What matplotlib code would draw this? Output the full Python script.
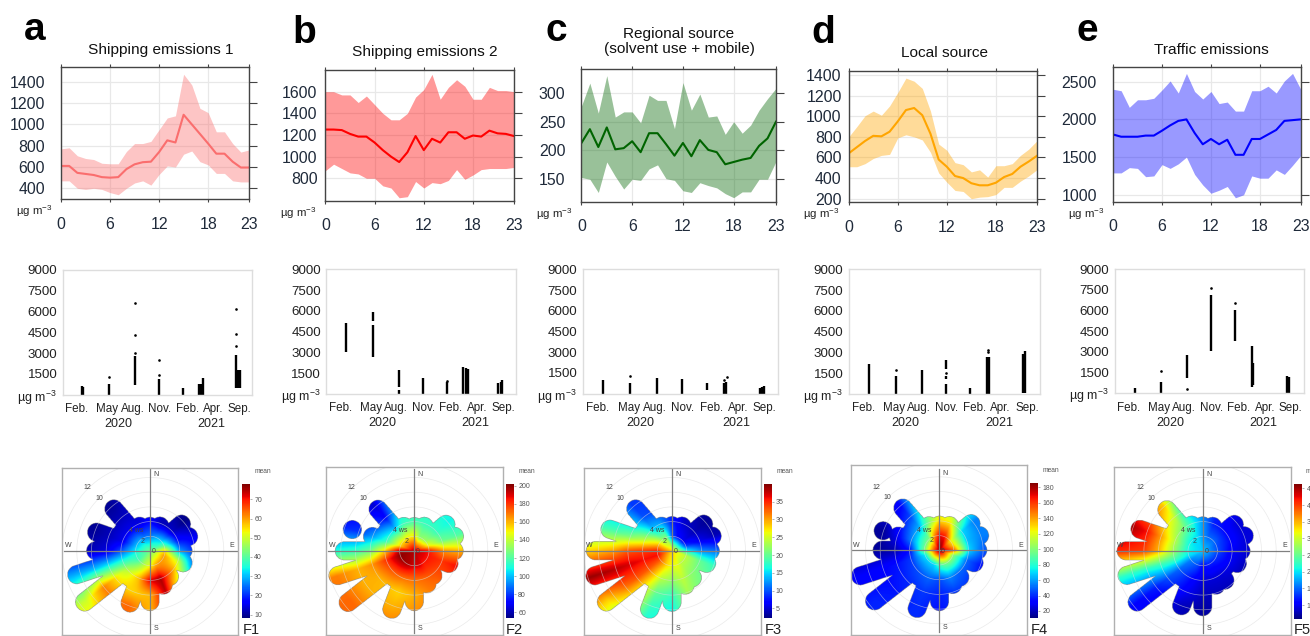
#!/usr/bin/env python
import numpy as np
import matplotlib
matplotlib.use('Agg')
import matplotlib.pyplot as plt

plt.rcParams['font.family'] = ['Liberation Sans', 'DejaVu Sans']
plt.rcParams['mathtext.default'] = 'regular'

W, H = 1310, 636
UNIT = 'µg m$^{-3}$'

hours = list(range(24))

# diurnal profiles: mean, upper, lower
a_mean = [610,610,545,535,525,505,500,505,580,625,645,650,740,850,830,1090,1000,910,820,725,725,650,595,595]
a_up = [770,780,705,680,670,635,630,630,745,820,820,840,950,1060,1080,1470,1370,1150,1110,930,930,820,740,760]
a_lo = [470,470,400,390,400,390,360,340,400,450,470,430,530,610,600,720,750,650,620,540,540,470,460,460]
b_mean = [1250,1250,1245,1210,1185,1185,1130,1060,1000,950,1040,1190,1060,1165,1130,1225,1225,1165,1195,1185,1240,1215,1210,1190]
b_up = [1600,1600,1570,1570,1500,1560,1480,1400,1340,1340,1400,1550,1620,1760,1530,1640,1710,1650,1530,1530,1640,1610,1610,1600]
b_lo = [870,930,890,850,840,800,800,730,710,620,630,770,710,760,750,780,880,790,830,880,890,890,890,900]
c_mean = [213,237,206,240,202,204,216,197,230,230,211,191,213,190,218,201,197,176,180,184,187,208,221,250]
c_up = [277,317,265,330,258,267,267,248,296,287,287,238,318,270,298,258,260,228,250,230,244,270,290,308]
c_lo = [153,150,127,180,155,133,150,148,168,175,151,148,130,127,144,139,135,125,118,128,128,150,150,181]
d_mean = [640,700,760,810,805,850,950,1060,1080,1010,830,580,510,420,400,350,330,330,355,410,440,510,560,615]
d_up = [800,900,1005,1050,1010,1100,1230,1370,1340,1270,1050,730,670,550,530,460,480,410,520,520,540,620,680,760]
d_lo = [510,510,540,590,620,630,790,820,800,770,650,450,360,280,270,200,215,220,240,310,310,370,420,480]
e_mean = [1800,1770,1770,1770,1785,1785,1850,1920,1980,2000,1820,1670,1740,1670,1730,1530,1530,1740,1740,1800,1860,1980,1990,2000]
e_up = [2400,2380,2160,2260,2260,2280,2390,2510,2350,2610,2370,2270,2370,2210,2230,2110,2110,2380,2380,2440,2350,2510,2610,2400]
e_lo = [1290,1290,1360,1350,1240,1250,1400,1350,1410,1500,1270,1130,1020,1060,1110,960,1000,1250,1220,1220,1330,1270,1390,1520]

titles = ['Shipping emissions 1', 'Shipping emissions 2', 'Regional source\n(solvent use + mobile)', 'Local source', 'Traffic emissions']
letters = ['a', 'b', 'c', 'd', 'e']

# campaign columns: (month index, low, high) and single points: (month index, value)
m = [1.0, 4.26, 7.47, 10.4, 13.4, 15.6, 19.9]
month_labels = ['Feb.', 'May', 'Aug.', 'Nov.', 'Feb.', 'Apr.', 'Sep.']
month_label_x = [0.3, 4.05, 7.15, 10.5, 13.9, 17.1, 20.3]
scat_ticks = [1500, 3000, 4500, 6000, 7500, 9000]

a_cols = [(m[0]-.1,0,600),(m[0]+.1,0,580),(m[1],0,800),(m[2],700,2800),(m[3],0,1100),(m[4],0,450),
          (m[5]-.2,0,800),(m[5],0,800),(m[5]+.2,0,1200),(m[6],500,2900),(m[6]+.25,500,1800),(m[6]+.5,500,1800)]
a_pts = [(m[1],1300),(m[2],3000),(m[2],4300),(m[2],6600),(m[3],1400),(m[3],2500),(m[6],3500),(m[6],4400),(m[6],6200)]
b_cols = [(m[0],3000,5100),(m[1],2700,5000),(m[1],5300,5900),(m[2],0,300),(m[2],500,1700),(m[3],0,1150),(m[4],0,900),
          (m[5]-.2,0,1950),(m[5]+.1,0,1900),(m[5]+.35,0,1800),(m[6]-.2,0,800),(m[6]+.1,0,900),(m[6]+.3,0,1000)]
b_pts = [(m[4],950)]
c_cols = [(m[0],0,1000),(m[1],0,800),(m[2],0,1100),(m[3],0,1050),(m[4],250,750),(m[5]-.15,0,750),(m[5]+.1,0,850),
          (m[6]-.15,0,400),(m[6]+.1,0,450),(m[6]+.35,0,550)]
c_pts = [(m[1],1300),(m[5]-.1,1000),(m[5]+.2,1200)]
d_cols = [(m[0],0,2200),(m[1],0,1300),(m[2],0,1750),(m[3],0,700),(m[3],1100,1300),(m[3],1800,2450),(m[4],0,450),
          (m[5]-.15,0,2700),(m[5]+.1,0,2700),(m[6]-.1,100,2900),(m[6]+.15,100,3100)]
d_pts = [(m[1],1750),(m[3],1500),(m[5]-.1,3000),(m[5]-.1,3200)]
e_cols = [(m[0],0,400),(m[1],0,850),(m[2],1100,2800),(m[3],3050,7100),(m[4],3800,6000),(m[5]-.1,450,3400),(m[5]+.1,600,2200),
          (m[6]-.1,0,1250),(m[6]+.15,0,1200)]
e_pts = [(m[1],1600),(m[2],300),(m[3],7600),(m[4],6550)]

# polar plots: mean by wind direction (deg from east, ccw) and wind speed ring
wind_dirs = [0,20,40,68,90,113,131,161,180,198,218,249,270,291,307,340]
ws_rings = [0,2,4,6,8,11]

f1_center = 42
f1_vals = [[55,28,20],[40,18,15],[32,13,9],[28,12,12],[25,17,17],[25,14,13],[28,15,12,10],[30,15,12,10],
           [33,22,14,12],[36,34,32,30,29],[38,47,55,62,50],[48,58,56,64,64],[52,72,58,58,58],[58,75,74,74,74],[60,66,55],[60,50,28]]
f2_center = 195
f2_vals = [[185,165,160],[150,125,120],[135,115,108],[130,115,112],[150,118,112],[150,115,105],[150,100,72,65,60],[155,115,95,80,75],
           [195,155,125,115,110],[200,180,165,160,168],[198,175,160,160,172],[195,170,155,160,170],[190,170,160,165,170],[190,172,168],[185,175,170],[185,180,186]]
f3_center = 28
f3_vals = [[16,12,11],[9,6,4],[6,4,3],[7,5,4],[10,8,8],[21,13,9],[22,14,10,9,9],[30,25,21,19,18],
           [35,34,33,30,28],[36,36,37,38,39],[33,33,33,32,28],[28,24,20,18,16],[26,22,18,16,15],[26,24,23],[24,22,21],[24,20,18]]
f4_center = 186
f4_vals = [[150,70,48],[130,65,55],[125,70,55],[165,125,100],[170,130,110],[140,95,85],[100,65,45,33,30],[95,55,30,15,15],
           [100,35,18,15,15],[75,42,35,32,30],[70,45,38,35,38],[70,50,42,40,40],[85,45,38,35,35],[95,55,42],[100,50,42],[100,50,35]]
f5_center = 19
f5_vals = [[14,10,9],[14,11,9],[15,11,9],[15,12,12],[17,17,15],[20,22,20],[20,26,30,34,32],[21,29,36,42,46],
           [21,28,35,40,41],[20,23,23,22,22],[16,15,14,12,11],[14,11,10,8,8],[11,9,8,7,7],[12,9,8],[12,9,8],[13,10,8]]

# longest wind speed reached in each direction, plus detached blobs (direction, speed)
f1_len = [4.5,5.6,5.6,3.6,3.3,3.6,7.5,7.7,7.4,10.5,11.3,7.6,6.9,5.0,4.4,4.8]
f2_len = [5.4,5.8,5.6,3.6,3.3,3.6,7.5,6.0,9.5,10.9,11.4,8.5,6.9,4.8,4.2,5.0]
f3_len = [5.2,5.8,5.6,3.6,3.4,3.6,7.5,8.9,10.4,11.0,11.3,8.5,7.0,5.0,4.6,5.0]
f4_len = [5.2,5.8,5.6,3.6,3.4,3.6,7.6,5.9,7.8,11.3,11.2,8.5,7.0,5.0,4.6,5.0]
f5_len = [5.2,6.0,5.6,3.6,3.4,3.8,7.4,9.0,10.4,10.8,11.3,8.0,7.6,5.0,5.0,5.0]
f2_blobs = [(161,8.9)]
f4_blobs = [(161,8.1)]

f1_ticks = [10,20,30,40,50,60,70]
f2_ticks = [60,80,100,120,140,160,180,200]
f3_ticks = [5,10,15,20,25,30,35]
f4_ticks = [20,40,60,80,100,120,140,160,180]
f5_ticks = [10,15,20,25,30,35,40,45]


def px_axes(fig, left, top, right, bottom):
    return fig.add_axes([left / W, 1 - bottom / H, (right - left) / W, (bottom - top) / H])


def px_text(fig, x, y, s, **kw):
    return fig.text(x / W, 1 - y / H, s, **kw)


def draw_profile(fig, box, ylim, yticks, pad, mean, up, lo, col, line):
    ax = px_axes(fig, *box)
    ax.set_axisbelow(True)
    ax.grid(color='#e8e8e8', lw=0.9)
    ax.fill_between(hours, lo, up, color=col, alpha=0.4, lw=0)
    ax.plot(hours, mean, color=line, lw=1.5)
    ax.set_xlim(0, 23)
    ax.set_ylim(*ylim)
    ax.set_xticks([0, 6, 12, 18, 23])
    ax.set_yticks(yticks)
    ax.tick_params(axis='x', top=True, bottom=True, length=2, width=0.8, pad=10.5,
                   labelsize=11.4, labelcolor='#1f2a3a', color='#444444')
    # pad counts the hidden tick length too
    ax.tick_params(axis='y', left=False, right=True, length=6, width=0.8, pad=pad * 0.72 - 6,
                   labelsize=11.4, labelcolor='#1f2a3a', color='#444444')
    for s in ax.spines.values():
        s.set_color('#444444')
        s.set_linewidth(1.0)
    px_text(fig, box[0] - 9, box[3] + 12, UNIT, ha='right', va='center', fontsize=8.2, color='#222222')
    return ax


def draw_scatter(fig, box, cols, pts):
    ax = px_axes(fig, *box)
    for x, lo, hi in cols:
        ax.vlines(x, lo, hi, color='black', lw=1.7)
    ax.plot([p[0] for p in pts], [p[1] for p in pts], 'o', color='black', ms=1.9, mew=0)
    ax.set_xlim(-1.42, 21.9)
    ax.set_ylim(0, 9000)
    ax.set_yticks(scat_ticks)
    ax.set_xticks(month_label_x)
    ax.set_xticklabels(month_labels)
    ax.tick_params(axis='both', length=0, labelsize=8.4, labelcolor='#222222')
    ax.tick_params(axis='y', labelsize=9.6, pad=4)
    ax.tick_params(axis='x', pad=6)
    for s in ax.spines.values():
        s.set_color('#dddddd')
        s.set_linewidth(1.0)
    px_text(fig, box[0] - 6, box[3] + 3, UNIT, ha='right', va='center', fontsize=9, color='#222222')
    ax.text(5.4, -0.236, '2020', transform=ax.get_xaxis_transform(), ha='center', va='center', fontsize=9, color='#222222')
    ax.text(16.9, -0.236, '2021', transform=ax.get_xaxis_transform(), ha='center', va='center', fontsize=9, color='#222222')
    return ax


def wind_field(center, vals, lengths, blobs):
    xs = np.linspace(-13.5, 13.5, 540)
    X, Y = np.meshgrid(xs, xs)
    R = np.hypot(X, Y)
    A = np.degrees(np.arctan2(Y, X)) % 360

    table = np.array([[center] + v + [v[-1]] * (5 - len(v)) for v in vals], dtype=float)
    table = np.vstack([table, table[0]])
    dirs = wind_dirs + [360]
    layers = np.stack([np.interp(A, dirs, table[:, k]) for k in range(len(ws_rings))])
    hi = np.clip(np.searchsorted(ws_rings, R), 1, len(ws_rings) - 1)
    r0 = np.array(ws_rings, dtype=float)[hi - 1]
    r1 = np.array(ws_rings, dtype=float)[hi]
    t = np.clip((R - r0) / (r1 - r0), 0, 1)
    rows, colu = np.indices(R.shape)
    field = layers[hi - 1, rows, colu] * (1 - t) + layers[hi, rows, colu] * t

    keep = np.zeros(R.shape, dtype=bool)
    for d, n in zip(wind_dirs, lengths):
        ux, uy = np.cos(np.radians(d)), np.sin(np.radians(d))
        along = np.clip(X * ux + Y * uy, 0, n)
        keep |= np.hypot(X - along * ux, Y - along * uy) < 1.25
    for d, n in blobs:
        bx, by = n * np.cos(np.radians(d)), n * np.sin(np.radians(d))
        keep |= np.hypot(X - bx, Y - by) < 1.25
    # neighbouring spokes merge near the middle
    for i in range(len(wind_dirs)):
        a0 = wind_dirs[i]
        a1 = dirs[i + 1]
        fill = min(lengths[i], lengths[(i + 1) % len(lengths)], 5.8)
        keep |= (A >= a0) & (A <= a1) & (R < fill)
    return np.ma.masked_where(~keep, field)


def draw_polar(fig, box, centre, bar, vrange, ticks, center, vals, lengths, blobs, mean_x, f_x, name):
    ws = 7.35  # pixels per m/s
    ax = px_axes(fig, *box)
    field = wind_field(center, vals, lengths, blobs)
    im = ax.imshow(field, extent=(-13.5, 13.5, -13.5, 13.5), origin='lower', cmap='jet',
                   vmin=vrange[0], vmax=vrange[1], interpolation='bilinear', aspect='auto')
    ax.set_xlim((box[0] - centre[0]) / ws, (box[2] - centre[0]) / ws)
    ax.set_ylim((centre[1] - box[3]) / ws, (centre[1] - box[1]) / ws)
    th = np.radians(np.arange(0, 361, 3))
    for r in [2, 4, 6, 8, 10, 12]:
        ax.plot(r * np.cos(th), r * np.sin(th), color='#dcdcdc', lw=0.5, alpha=0.6)
    ax.plot([-11.8, 11.8], [0, 0], color='#808080', lw=0.9)
    ax.plot([0, 0], [-11.1, 11.1], color='#808080', lw=0.9)
    lab = dict(fontsize=5, color='#444444', ha='center', va='center')
    ax.text(0.8, 10.45, 'N', **lab)
    ax.text(0.8, -10.55, 'S', **lab)
    ax.text(-11.2, 0.7, 'W', **lab)
    ax.text(11.1, 0.7, 'E', **lab)
    ax.text(0.5, -0.1, '0', **lab)
    ax.text(-1.05, 1.35, '2', **lab)
    ax.text(-1.95, 2.75, '4 ws', **lab)
    ax.text(-7.0, 7.2, '10', **lab)
    ax.text(-8.5, 8.6, '12', **lab)
    ax.set_xticks([])
    ax.set_yticks([])
    for s in ax.spines.values():
        s.set_color('#b0b0b0')
        s.set_linewidth(1.0)

    cax = px_axes(fig, *bar)
    cb = fig.colorbar(im, cax=cax)
    cb.set_ticks(ticks)
    cb.outline.set_visible(False)
    cax.tick_params(length=1.5, width=0.4, pad=1.5, labelsize=5, labelcolor='#555555', color='#777777')
    px_text(fig, mean_x, bar[1] - 12.5, 'mean', ha='left', va='center', fontsize=4.8, color='#555555')
    px_text(fig, f_x, 630, name, ha='left', va='center', fontsize=10.5, color='#222222')


def main():
    fig = plt.figure(figsize=(W / 100, H / 100), dpi=100)

    draw_profile(fig, (61, 67, 249, 199.3), (297, 1538), [400,600,800,1000,1200,1400], 16, a_mean, a_up, a_lo, '#fa6e6e', '#fa6e6e')
    draw_profile(fig, (325.4, 69.7, 514, 201), (590, 1803), [800,1000,1200,1400,1600], 8, b_mean, b_up, b_lo, '#ff0000', '#ff0000')
    draw_profile(fig, (581.4, 69.3, 776, 201.7), (111, 341), [150,200,250,300], 16, c_mean, c_up, c_lo, '#006400', '#006400')
    draw_profile(fig, (848.7, 71, 1036.8, 202.3), (165, 1439), [200,400,600,800,1000,1200,1400], 7, d_mean, d_up, d_lo, '#ffa500', '#ffa500')
    draw_profile(fig, (1113, 67, 1300.7, 201.7), (908, 2695), [1000,1500,2000,2500], 16, e_mean, e_up, e_lo, '#0000ff', '#0000ff')

    draw_scatter(fig, (63, 270, 252, 394.7), a_cols, a_pts)
    draw_scatter(fig, (326.4, 269.3, 516, 394), b_cols, b_pts)
    draw_scatter(fig, (583, 269.3, 778, 393.7), c_cols, c_pts)
    draw_scatter(fig, (849, 269.3, 1040, 394), d_cols, d_pts)
    draw_scatter(fig, (1115, 269, 1303.6, 393.3), e_cols, e_pts)

    draw_polar(fig, (62.3, 467.7, 238.3, 635), (150.3, 551), (241.7, 484.3, 250, 617.7), (8.4, 77.8), f1_ticks,
               f1_center, f1_vals, f1_len, [], 255, 243, 'F1')
    draw_polar(fig, (326.3, 467.3, 502.7, 635), (414.3, 551), (506, 484.3, 514, 618.3), (53.4, 201.5), f2_ticks,
               f2_center, f2_vals, f2_len, f2_blobs, 519, 506, 'F2')
    draw_polar(fig, (584.3, 467.7, 760.7, 635), (672, 551), (763.7, 484.3, 771.7, 618.3), (2.2, 39.9), f3_ticks,
               f3_center, f3_vals, f3_len, [], 776.7, 765, 'F3')
    draw_polar(fig, (850.7, 465.3, 1027.3, 635), (939, 550.3), (1030.3, 482.7, 1038.3, 618.3), (10.5, 186), f4_ticks,
               f4_center, f4_vals, f4_len, f4_blobs, 1043, 1030.7, 'F4')
    draw_polar(fig, (1114.3, 467.3, 1290.7, 635), (1202.7, 551), (1294.3, 484, 1302.3, 619), (5.8, 46.3), f5_ticks,
               f5_center, f5_vals, f5_len, [], 1306, 1294, 'F5')

    title_x = [160.5, 424.8, 679, 944.6, 1211]
    title_y = [50, 52, 41.5, 52.7, 50]
    for x, y, t in zip(title_x, title_y, titles):
        px_text(fig, x, y, t, ha='center', va='center', fontsize=11.1, color='#111111', linespacing=1.05)

    letter_x = [24, 292.7, 545.6, 811, 1076]
    letter_y = [40, 43, 40.7, 43, 40.7]
    for x, y, t in zip(letter_x, letter_y, letters):
        px_text(fig, x, y, t, ha='left', va='baseline', fontsize=28, fontweight='bold', color='black')

    fig.savefig('out.png', dpi=100)


if __name__ == "__main__":
    main()
